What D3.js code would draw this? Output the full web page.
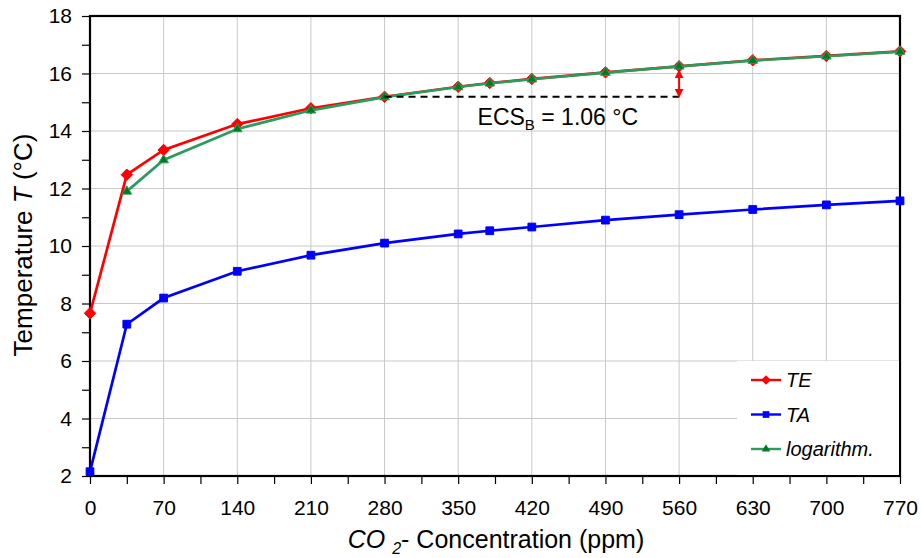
<!DOCTYPE html>
<html>
<head>
<meta charset="utf-8">
<script src="https://cdn.jsdelivr.net/npm/d3@7"></script>
<style>
  body { margin: 0; background: #fff; }
  svg { font-family: "Liberation Sans", Arial, sans-serif; }
</style>
</head>
<body>
<svg id="chart" width="921" height="558"></svg>
<script>
// CO2 concentration (ppm)
var co2 = [0, 35, 70, 140, 210, 280, 350, 380, 420, 490, 560, 630, 700, 770];
var teValues = [7.66, 12.48, 13.34, 14.24, 14.79, 15.19, 15.54, 15.67, 15.81, 16.04, 16.25, 16.46, 16.61, 16.77];
var taValues = [2.15, 7.28, 8.19, 9.12, 9.68, 10.1, 10.42, 10.53, 10.66, 10.9, 11.09, 11.27, 11.43, 11.57];
// logarithm fit has no value at 0 ppm
var logCo2 = [35, 70, 140, 210, 280, 350, 380, 420, 490, 560, 630, 700, 770];
var logValues = [11.9, 12.99, 14.07, 14.72, 15.18, 15.53, 15.66, 15.8, 16.03, 16.25, 16.45, 16.6, 16.76];

var xTicks = [0, 70, 140, 210, 280, 350, 420, 490, 560, 630, 700, 770];
var yTicks = [2, 4, 6, 8, 10, 12, 14, 16, 18];

var margin = {left: 90, top: 16, right: 21, bottom: 82};
var width = 921 - margin.left - margin.right;
var height = 558 - margin.top - margin.bottom;

var svg = d3.select("#chart");
var g = svg.append("g").attr("transform", "translate(" + margin.left + "," + margin.top + ")");

var x = d3.scaleLinear().domain([0, 770]).range([0, width]);
var y = d3.scaleLinear().domain([2, 18]).range([height, 0]);

// GRID
g.append("g").selectAll("line").data(xTicks.slice(1, -1)).enter().append("line")
    .attr("x1", function (d) { return x(d); }).attr("x2", function (d) { return x(d); })
    .attr("y1", 0).attr("y2", height)
    .attr("stroke", "#c8c8c8").attr("stroke-width", 1);
g.append("g").selectAll("line").data(yTicks.slice(1, -1)).enter().append("line")
    .attr("y1", function (d) { return y(d); }).attr("y2", function (d) { return y(d); })
    .attr("x1", 0).attr("x2", width)
    .attr("stroke", "#c8c8c8").attr("stroke-width", 1);

// AXES
var xAxis = g.append("g").attr("transform", "translate(0," + height + ")")
    .call(d3.axisBottom(x).tickValues(xTicks).tickSize(8).tickPadding(16).tickFormat(d3.format("d")));
var xMinor = g.append("g").attr("transform", "translate(0," + height + ")")
    .call(d3.axisBottom(x).tickValues(d3.range(35, 770, 70)).tickSize(8).tickFormat(""));
var yAxis = g.append("g")
    .call(d3.axisLeft(y).tickValues(yTicks).tickSize(8).tickPadding(10).tickFormat(d3.format("d")));
var yMinor = g.append("g")
    .call(d3.axisLeft(y).tickValues(d3.range(3, 18, 2)).tickSize(8).tickFormat(""));
[xAxis, xMinor, yAxis, yMinor].forEach(function (a) {
    a.select(".domain").remove();
    a.selectAll("line").attr("stroke", "#000").attr("stroke-width", 1.2);
    a.selectAll("text").attr("fill", "#000").style("font-size", "21px");
});

// frame
g.append("rect").attr("width", width).attr("height", height)
    .attr("fill", "none").attr("stroke", "#000").attr("stroke-width", 2.2);

// SERIES
var diamond = {draw: function (ctx, size) {
    var r = Math.sqrt(size) / 2;
    ctx.moveTo(0, -r); ctx.lineTo(r, 0); ctx.lineTo(0, r); ctx.lineTo(-r, 0); ctx.closePath();
}};
function drawSeries(xs, ys, color, markerColor, symbol, size) {
    var pts = xs.map(function (d, i) { return [x(d), y(ys[i])]; });
    g.append("path").datum(pts)
        .attr("d", d3.line())
        .attr("fill", "none").attr("stroke", color).attr("stroke-width", 2.7);
    g.append("g").selectAll("path").data(pts).enter().append("path")
        .attr("transform", function (d) { return "translate(" + d[0] + "," + d[1] + ")"; })
        .attr("d", d3.symbol().type(symbol).size(size))
        .attr("fill", markerColor).attr("stroke", color).attr("stroke-width", 1);
}
drawSeries(co2, teValues, "#ff0000", "#ff0000", diamond, 130);
drawSeries(co2, taValues, "#0000ff", "#0000ff", d3.symbolSquare, 60);
drawSeries(logCo2, logValues, "#2e9b5e", "#007a1e", d3.symbolTriangle, 40);

// ECS annotation
g.append("line")
    .attr("x1", x(280)).attr("x2", x(560))
    .attr("y1", y(teValues[5])).attr("y2", y(teValues[5]))
    .attr("stroke", "#000").attr("stroke-width", 2).attr("stroke-dasharray", "7,5");
var defs = svg.append("defs");
defs.append("marker").attr("id", "arr").attr("viewBox", "0 0 10 10")
    .attr("refX", 9).attr("refY", 5).attr("markerWidth", 9).attr("markerHeight", 9)
    .attr("markerUnits", "userSpaceOnUse")
    .attr("orient", "auto-start-reverse")
    .append("path").attr("d", "M0,0L10,5L0,10z").attr("fill", "#ff0000");
g.append("line")
    .attr("x1", x(560)).attr("x2", x(560))
    .attr("y1", y(teValues[10]) + 4).attr("y2", y(teValues[5]))
    .attr("stroke", "#ff0000").attr("stroke-width", 2)
    .attr("marker-start", "url(#arr)").attr("marker-end", "url(#arr)");
var ecs = g.append("text").attr("x", x(420) + 26).attr("y", y(teValues[5]) + 28)
    .attr("text-anchor", "middle").style("font-size", "23px");
ecs.append("tspan").text("ECS");
ecs.append("tspan").attr("dy", 5).style("font-size", "15px").text("B");
ecs.append("tspan").attr("dy", -5).text(" = 1.06 °C");

// LEGEND
var leg = g.append("g").attr("transform", "translate(" + (width - 163) + "," + (height - 115) + ")");
leg.append("rect").attr("width", 162).attr("height", 114).attr("fill", "#fff");
var legItems = [
    {name: "TE", color: "#ff0000", mcolor: "#ff0000", sym: diamond, size: 90},
    {name: "TA", color: "#0000ff", mcolor: "#0000ff", sym: d3.symbolSquare, size: 45},
    {name: "logarithm.", color: "#2e9b5e", mcolor: "#007a1e", sym: d3.symbolTriangle, size: 30}
];
legItems.forEach(function (d, i) {
    var row = leg.append("g").attr("transform", "translate(14," + (19 + i * 34.5) + ")");
    row.append("line").attr("x1", 0).attr("x2", 30).attr("stroke", d.color).attr("stroke-width", 2.4);
    row.append("path").attr("transform", "translate(15,0)")
        .attr("d", d3.symbol().type(d.sym).size(d.size)).attr("fill", d.mcolor);
    row.append("text").attr("x", 35).attr("y", 7).style("font-size", "20px")
        .style("font-style", "italic").text(d.name);
});

// AXIS TITLES
var xt = svg.append("text").attr("x", 496).attr("y", 548).attr("text-anchor", "middle")
    .style("font-size", "25px");
xt.append("tspan").style("font-style", "italic").text("CO ");
xt.append("tspan").attr("dy", 6).style("font-size", "16px").style("font-style", "italic").text("2");
xt.append("tspan").attr("dy", -6).text("- Concentration (ppm)");

var yt = svg.append("text").attr("transform", "translate(32,245) rotate(-90)")
    .attr("text-anchor", "middle").style("font-size", "26px");
yt.append("tspan").text("Temperature ");
yt.append("tspan").style("font-style", "italic").text("T");
yt.append("tspan").text(" (°C)");
</script>
</body>
</html>
